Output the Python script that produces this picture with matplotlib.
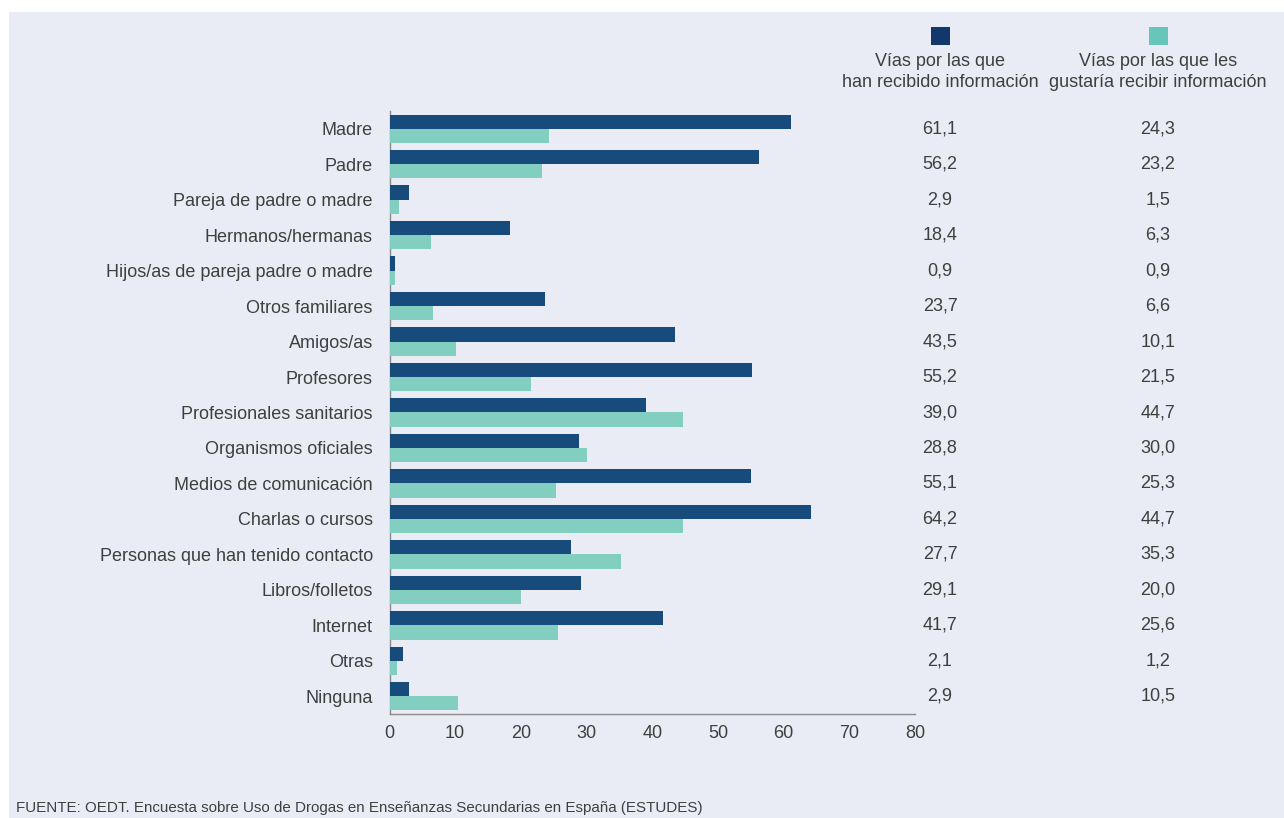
import matplotlib
matplotlib.use("Agg")
import matplotlib.pyplot as plt
import matplotlib.transforms as mtransforms
import numpy as np
from matplotlib.patches import Rectangle

categories = [
    "Madre", "Padre", "Pareja de padre o madre", "Hermanos/hermanas",
    "Hijos/as de pareja padre o madre", "Otros familiares", "Amigos/as",
    "Profesores", "Profesionales sanitarios", "Organismos oficiales",
    "Medios de comunicación", "Charlas o cursos",
    "Personas que han tenido contacto", "Libros/folletos", "Internet",
    "Otras", "Ninguna",
]
recibido = [61.1, 56.2, 2.9, 18.4, 0.9, 23.7, 43.5, 55.2, 39.0, 28.8,
            55.1, 64.2, 27.7, 29.1, 41.7, 2.1, 2.9]
gustaria = [24.3, 23.2, 1.5, 6.3, 0.9, 6.6, 10.1, 21.5, 44.7, 30.0,
            25.3, 44.7, 35.3, 20.0, 25.6, 1.2, 10.5]
x_ticks = [0, 10, 20, 30, 40, 50, 60, 70, 80]
legend_labels = ["Vías por las que\nhan recibido información",
                 "Vías por las que les\ngustaría recibir información"]
source = "FUENTE: OEDT. Encuesta sobre Uso de Drogas en Enseñanzas Secundarias en España (ESTUDES)"

plt.rcParams['font.family'] = ['Liberation Sans', 'DejaVu Sans']
TXT = "#3f3f3f"
DARK = "#164b7c"
LIGHT = "#82cfc2"
BG = "#e9ecf4"
FS = 13

W, H = 1284, 818
fig = plt.figure(figsize=(W / 100, H / 100), dpi=100)
fig.patch.set_facecolor("white")
# panel background
fig.patches.append(Rectangle((9 / W, 0), 1 - 9 / W, 1 - 12 / H,
                             transform=fig.transFigure, facecolor=BG,
                             edgecolor="none", zorder=-10))

ax_top, ax_bot = 111, 714
ax = fig.add_axes([389.5 / W, 1 - ax_bot / H, (915 - 389.5) / W,
                   (ax_bot - ax_top) / H])
ax.set_facecolor("none")

n = len(categories)
y = np.arange(n)
h = 0.4
ax.barh(y - h / 2, recibido, height=h, color=DARK, zorder=2)
ax.barh(y + h / 2, gustaria, height=h, color=LIGHT, zorder=2)

ax.set_xlim(0, 80)
ax.set_ylim(n - 0.5, -0.5)
ax.set_xticks(x_ticks)
ax.set_xticklabels([str(t) for t in x_ticks], fontsize=FS, color=TXT)
ax.set_yticks(y)
ax.set_yticklabels(categories, fontsize=FS, color=TXT)
ax.tick_params(axis="both", length=0)
ax.tick_params(axis="y", pad=12)
ax.tick_params(axis="x", pad=8)
for s in ["top", "right"]:
    ax.spines[s].set_visible(False)
for s in ["left", "bottom"]:
    ax.spines[s].set_color("#8a8a8a")
    ax.spines[s].set_linewidth(1.0)
ax.spines["left"].set_zorder(1)

# value columns
col_x = [940, 1158]
blend = mtransforms.blended_transform_factory(fig.transFigure, ax.transData)
for i in range(n):
    for cx, vals in zip(col_x, [recibido, gustaria]):
        ax.text(cx / W, i, f"{vals[i]:.1f}".replace(".", ","),
                transform=blend, ha="center", va="center",
                fontsize=FS, color=TXT)

# legend
for cx, col, lab in zip(col_x, ["#12386b", "#66c6b9"], legend_labels):
    fig.patches.append(Rectangle(((cx - 9) / W, 1 - 45 / H), 19 / W, 18 / H,
                                 transform=fig.transFigure, facecolor=col,
                                 edgecolor="none"))
    fig.text(cx / W, 1 - 72 / H, lab, ha="center", va="center",
             fontsize=FS, color=TXT, linespacing=1.25)

fig.text(16 / W, 1 - 808 / H, source, ha="left", va="center",
         fontsize=10.9, color=TXT)

fig.savefig("out.png", dpi=100)
